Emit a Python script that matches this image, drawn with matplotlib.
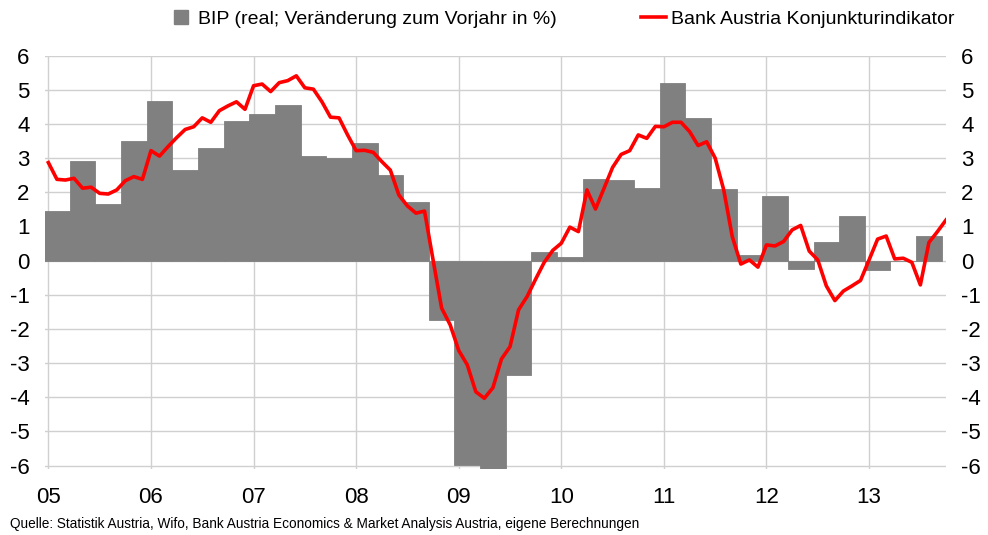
import numpy as np
import matplotlib.pyplot as plt
from matplotlib.lines import Line2D
from matplotlib import font_manager

# BIP, real, change vs. previous year in % (quarterly, 2005Q1 - 2013Q3)
gdp = [1.45, 2.92, 1.66, 3.51,
       4.67, 2.65, 3.30, 4.10,
       4.29, 4.56, 3.06, 3.00,
       3.44, 2.51, 1.72, -1.74,
       -5.99, -6.09, -3.35, 0.25,
       0.11, 2.39, 2.36, 2.13,
       5.20, 4.18, 2.10, 0.17,
       1.90, -0.25, 0.56, 1.31,
       -0.28, 0.00, 0.72]

# Bank Austria Konjunkturindikator (monthly, Jan 2005 - Oct 2013)
indicator = [2.87, 2.38, 2.36, 2.41, 2.12, 2.15, 1.97, 1.95, 2.07, 2.34, 2.46, 2.38,
             3.22, 3.06, 3.34, 3.60, 3.84, 3.92, 4.18, 4.05, 4.39, 4.53, 4.65, 4.43,
             5.12, 5.17, 4.95, 5.21, 5.27, 5.41, 5.06, 5.02, 4.65, 4.20, 4.18, 3.68,
             3.22, 3.23, 3.17, 2.90, 2.65, 1.92, 1.60, 1.39, 1.45, 0.02, -1.39, -1.88,
             -2.63, -3.05, -3.84, -4.03, -3.72, -2.88, -2.52, -1.44, -1.05, -0.54, -0.05, 0.30,
             0.51, 0.98, 0.85, 2.07, 1.51, 2.12, 2.73, 3.11, 3.22, 3.68, 3.58, 3.93,
             3.92, 4.05, 4.05, 3.78, 3.37, 3.48, 3.00, 2.07, 0.70, -0.10, 0.02, -0.19,
             0.46, 0.43, 0.56, 0.90, 1.03, 0.28, 0.02, -0.74, -1.17, -0.89, -0.74, -0.58,
             0.02, 0.63, 0.72, 0.05, 0.07, -0.05, -0.71, 0.53, 0.85, 1.19]

year_labels = ['05', '06', '07', '08', '09', '10', '11', '12', '13']
y_ticks = [-6, -5, -4, -3, -2, -1, 0, 1, 2, 3, 4, 5, 6]

gdp_label = 'BIP (real; Veränderung zum Vorjahr in %)'
ind_label = 'Bank Austria Konjunkturindikator'
source = ('Quelle: Statistik Austria, Wifo, Bank Austria Economics & '
          'Market Analysis Austria, eigene Berechnungen')

plt.rcParams['font.family'] = ['Liberation Sans', 'DejaVu Sans']

months = np.arange(len(indicator))
quarter_pos = np.arange(len(gdp)) * 3 + 1

fig = plt.figure(figsize=(9.88, 5.35), dpi=100)
ax = fig.add_axes([0.0455, 0.1234, 0.912, 0.7725])

ax.bar(quarter_pos, gdp, width=3, color='#808080', edgecolor='#808080',
       lw=0.6, zorder=2)
ax.plot(months, indicator, color='#ff0000', lw=2.6, zorder=3,
        solid_joinstyle='round')

ax.set_xlim(-0.4, 105)
ax.set_ylim(-6.1, 6)
ax.set_xticks(np.arange(len(year_labels)) * 12)
ax.set_xticklabels(year_labels)
ax.set_yticks(y_ticks)
ax.set_yticklabels([str(v) for v in y_ticks])

ax.grid(color='#d0d0d0', lw=1)
ax.set_axisbelow(True)
for s in ax.spines.values():
    s.set_visible(False)

ax.tick_params(axis='both', length=0, labelsize=16, colors='black')
ax.tick_params(axis='x', pad=13)
ax.tick_params(axis='y', labelleft=True, labelright=True, pad=11)

handles = [Line2D([], [], marker='s', color='#808080', ls='none', markersize=10),
           Line2D([], [], color='#ff0000', lw=2.6)]
fig.legend(handles, [gdp_label, ind_label], loc='center',
           bbox_to_anchor=(0.568, 0.964), ncol=2, frameon=False, fontsize=14,
           columnspacing=4.3, handlelength=1.3, handletextpad=0.25)

names = {f.name for f in font_manager.fontManager.ttflist}
if 'Liberation Sans Narrow' in names:
    fig.text(0.01, 0.02, source, fontsize=11, family='Liberation Sans Narrow',
             va='center', ha='left')
else:
    fig.text(0.01, 0.02, source, fontsize=9.8, va='center', ha='left')

fig.savefig('out.png', dpi=100)
